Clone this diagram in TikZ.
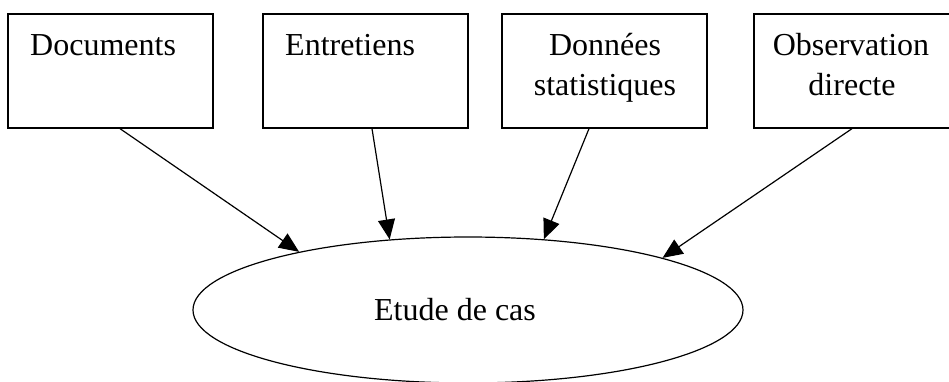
\documentclass[tikz,border=0pt]{standalone}
\usepackage{fontspec}
\setmainfont{Liberation Serif}
\usetikzlibrary{arrows.meta,shapes.geometric}
\tikzset{
  srcbox/.style={draw, line width=1.3pt, rectangle, minimum width=205pt, minimum height=114pt, inner sep=0pt},
  lbl/.style={font=\fontsize{32}{40}\selectfont, inner sep=0pt},
  casell/.style={draw, line width=1.2pt, ellipse, minimum width=550pt, minimum height=146pt, inner sep=0pt},
  flow/.style={line width=1.2pt, -{Triangle[length=20pt,width=17pt]}}
}
\begin{document}
\begin{tikzpicture}[x=1pt,y=-1pt]
\useasboundingbox (0,0) rectangle (949,381);
\clip (0,0) rectangle (949,381);
\node[srcbox] (doc) at (110.5,71) {};
\node[srcbox] (ent) at (365.5,71) {};
\node[srcbox] (don) at (604.5,71) {};
\node[srcbox] (obs) at (856.5,71) {};
\node[lbl, anchor=base west] (doct) at (30,55) {Documents};
\node[lbl, anchor=base west] (entt) at (285,55) {Entretiens};
\node[lbl, anchor=base] (dont1) at (605,55) {Données};
\node[lbl, anchor=base] (dont2) at (605,95) {statistiques};
\node[lbl, anchor=base] (obst1) at (851,55) {Observation};
\node[lbl, anchor=base] (obst2) at (852,95) {directe};
\node[casell] (cas) at (468,310) {};
\node[lbl, anchor=base] (cast) at (455,320) {Etude de cas};
\draw[flow] ([xshift=9.5pt]doc.south) -- (cas.161.3);
\draw[flow] ([xshift=6.5pt]ent.south) -- (cas.138);
\draw[flow] ([xshift=-15.5pt]don.south) -- (cas.43.8);
\draw[flow] ([xshift=-4.5pt]obs.south) -- (cas.15.9);
\end{tikzpicture}
\end{document}
